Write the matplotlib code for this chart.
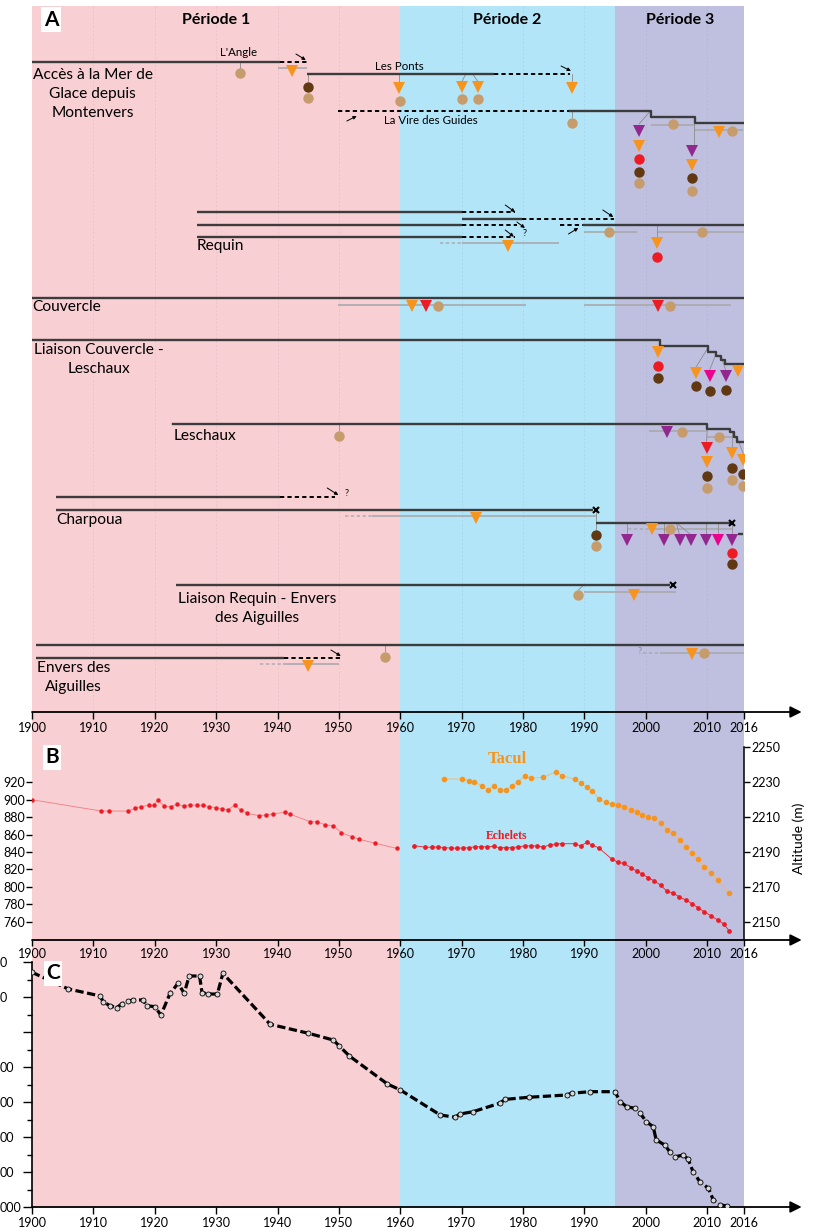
import matplotlib
matplotlib.use('Agg')
import matplotlib.pyplot as plt

plt.rcParams['font.family'] = ['Lato', 'DejaVu Sans']

W, H = 813, 1228
fig = plt.figure(figsize=(W / 100, H / 100), dpi=100)


def px_axes(x0, y0, x1, y1, **kw):
    return fig.add_axes([x0 / W, 1 - y1 / H, (x1 - x0) / W, (y1 - y0) / H], **kw)

# ---------------- data ----------------
periods = [(1900, 1960, '#F8CFD3'), (1960, 1995, '#B2E5F8'), (1995, 2016, '#BFC0DF')]
period_labels = ['Période 1', 'Période 2', 'Période 3']
period_label_x = [1930.0, 1977.4, 2005.6]
xticks = [1900, 1910, 1920, 1930, 1940, 1950, 1960, 1970, 1980, 1990, 2000, 2010, 2016]

# Panel A : route rows (row level, start year, end year)
solid_lines = [
    (62, 1900.0, 1940.4), (74, 1944.8, 1975.3),
    (212, 1926.9, 1970.0), (219, 1970.0, 1979.8), (225, 1926.9, 1970.0),
    (225, 1989.8, 2016.0), (237, 1926.9, 1970.0),
    (298, 1900.0, 2016.0),
    (497, 1903.9, 1940.4), (510, 1903.9, 1991.4), (523, 1991.9, 2013.7),
    (585, 1923.5, 2003.9),
    (645, 1900.6, 2016.0), (658, 1900.6, 1941.1),
    (534, 2015.0, 2015.8),
]
dashed_lines = [
    (62, 1940.4, 1944.8), (74, 1975.3, 1987.7), (111, 1949.9, 1987.7),
    (212, 1970.0, 1978.7), (219, 1979.8, 1994.8), (225, 1970.0, 1979.0),
    (225, 1986.0, 1989.8), (237, 1970.0, 1978.7),
    (497, 1940.4, 1949.4), (658, 1941.1, 1950.2),
]
vire_x = [1987.7, 2000.8, 2008.0, 2016.0]
vire_y = [111, 117, 123, 123]
couv_lesch_x = [1900.0, 2002.3, 2010.2, 2011.5, 2012.3, 2012.9, 2016.0]
couv_lesch_y = [340, 346, 352, 356, 360, 364, 364]
leschaux_x = [1923.0, 2010.0, 2013.8, 2014.3, 2014.9, 2016.0]
leschaux_y = [424, 429, 432, 437, 442, 442]

gray_lines = [
    (68, 1940.1, 1944.8), (125, 2000.8, 2008.0), (130, 2008.0, 2015.8),
    (243, 1970.0, 1985.9), (232, 1989.9, 1998.6), (232, 2001.8, 2016.0),
    (305, 1949.9, 1980.5), (305, 1989.9, 2013.9),
    (431, 2000.5, 2010.0), (437, 2010.0, 2014.5),
    (516, 1955.4, 1992.1), (529, 2001.3, 2014.0),
    (592, 1990.0, 2004.9), (664, 1940.9, 1950.0), (653, 2002.3, 2016.0),
]
gray_dashed = [
    (243, 1966.5, 1970.0), (516, 1951.0, 1955.4), (529, 1997.1, 2001.3),
    (664, 1937.1, 1940.9), (653, 1999.5, 2002.3),
]
stems = [
    (1933.9, 62, 1933.9, 68), (1944.9, 74, 1944.9, 81), (1959.8, 74, 1959.8, 82),
    (1970.6, 75, 1970.0, 82), (1971.9, 75, 1972.7, 82), (1987.9, 74, 1987.9, 82),
    (1987.9, 111, 1987.9, 117), (2000.6, 112, 1998.9, 124), (2007.9, 117, 2007.9, 145),
    (2001.8, 225, 2001.8, 238),
    (2010.2, 347, 2008.2, 367), (2011.5, 353, 2010.4, 370), (2012.3, 357, 2013.0, 370),
    (2014.5, 364, 2015.1, 366),
    (1950.0, 424, 1950.0, 430), (2010.0, 429, 2009.9, 442), (2014.0, 433, 2014.0, 448),
    (2014.9, 438, 2015.9, 454),
    (1991.9, 510, 1991.9, 529), (1996.9, 523, 1996.9, 535), (2002.9, 523, 2002.9, 535),
    (2005.0, 523, 2005.5, 535), (2005.0, 523, 2007.4, 535), (2009.8, 523, 2009.8, 535),
    (2011.8, 523, 2011.8, 535), (2014.0, 523, 2014.0, 535),
    (1989.9, 585, 1989.0, 590), (1957.5, 645, 1957.5, 651),
]

tri_orange = [(1942.3, 70.7), (1959.8, 88), (1970.0, 86.7), (1972.7, 86.7), (1987.9, 88),
              (1998.9, 146), (2007.6, 165), (2012.0, 132), (1977.5, 246), (2001.8, 243),
              (1961.9, 306), (2002.0, 352), (2008.2, 373), (2015.1, 371), (2009.9, 462),
              (2014.0, 453), (2015.9, 460), (1972.3, 518), (2001.0, 529), (1998.1, 595),
              (1945.0, 666), (2007.5, 654)]
tri_red = [(1964.2, 306), (2002.0, 306), (2009.9, 448)]
tri_purple = [(1998.9, 131), (2007.6, 151), (2013.0, 376), (2003.4, 432), (1996.9, 540),
              (2002.9, 540), (2005.5, 540), (2007.4, 540), (2009.8, 540), (2014.0, 540)]
tri_magenta = [(2010.4, 376), (2011.8, 540)]
circ_tan = [(1933.9, 73), (1944.9, 98), (1960.0, 100.7), (1970.0, 99), (1972.7, 99),
            (1987.9, 122.7), (2004.4, 124.3), (2014.1, 130.7), (1998.9, 183), (2007.6, 191),
            (1994.0, 232), (2009.2, 232), (1966.1, 306), (2003.9, 306), (1950.0, 436),
            (2005.9, 431.7), (2011.9, 437.3), (2009.9, 488), (2014.0, 480), (2015.9, 486),
            (1991.9, 546), (2003.9, 529), (1989.0, 595), (1957.5, 657), (2009.5, 653)]
circ_dark = [(1944.9, 86.7), (1998.9, 172), (2007.6, 178), (2002.0, 378), (2008.2, 386),
             (2010.4, 391), (2013.0, 390), (2009.9, 476), (2014.0, 468), (2015.9, 474),
             (1991.9, 535), (2014.0, 564)]
circ_red = [(1998.9, 159), (2001.8, 257), (2002.0, 366), (2014.0, 553)]
end_marks = [(1991.9, 510), (2014.1, 523), (2004.4, 585)]

arrows = [
    (1943.0, 54, 1944.6, 60), (1986.2, 66, 1987.8, 71), (1951.3, 121, 1952.9, 116),
    (1977.1, 205, 1978.7, 212), (1993.0, 210, 1994.7, 217), (1979.0, 222, 1980.3, 228),
    (1977.1, 230, 1978.5, 236.7), (1987.4, 234, 1989.0, 228),
    (1948.1, 488, 1949.9, 495), (1948.7, 650, 1950.3, 656),
]
question_marks = [(1980.3, 233, 'k'), (1951.3, 494, 'k'), (1999.0, 651, '#888888')]

row_labels = [
    ('Accès à la Mer de\nGlace depuis\nMontenvers', 1909.9, 94, 'center'),
    ('Requin', 1926.9, 246, 'left'),
    ('Couvercle', 1900.1, 307, 'left'),
    ('Liaison Couvercle -\nLeschaux', 1910.9, 359.5, 'center'),
    ('Leschaux', 1923.0, 436, 'left'),
    ('Charpoua', 1903.9, 520, 'left'),
    ('Liaison Requin - Envers\ndes Aiguilles', 1936.7, 608.5, 'center'),
    ('Envers des\nAiguilles', 1906.8, 677.5, 'center'),
]
route_names = [("L'Angle", 1933.6, 53), ('Les Ponts', 1959.8, 66.5),
               ('La Vire des Guides', 1965.0, 120)]

# Panel B : glacier surface
ech1_years = [1900, 1911.3, 1912.6, 1915.7, 1916.7, 1917.7, 1919.0, 1919.8, 1920.5, 1921.5,
              1922.6, 1923.6, 1924.7, 1925.8, 1926.9, 1927.9, 1928.9, 1930.0, 1931.0, 1931.9,
              1933.0, 1934.0, 1935.1, 1937.0, 1938.1, 1939.2, 1941.2, 1942.1, 1945.3, 1946.5,
              1947.8, 1949.1, 1950.4, 1952.1, 1953.3, 1955.9, 1959.4]
ech1_vals = [900, 887, 887, 887, 890, 892, 893.6, 893.6, 899.7, 892.8, 892.0, 894.7, 892.8,
             894.3, 893.6, 893.6, 892, 890.9, 889.7, 888.2, 893.6, 888.2, 884.4, 881.7, 882.5,
             883.6, 885.6, 883.3, 874.8, 874.8, 871.0, 870.2, 862.2, 857.6, 854.6, 850.0, 844.2]
ech2_years = [1962.2, 1964.1, 1965.1, 1966.2, 1967.2, 1968.2, 1969.2, 1970.2, 1971.2, 1972.2,
              1973.2, 1974.2, 1975.2, 1976.2, 1977.2, 1978.2, 1979.2, 1980.3, 1981.3, 1982.3,
              1983.3, 1984.4, 1985.4, 1986.4, 1988.4, 1989.4, 1990.4, 1991.3, 1992.4, 1994.5,
              1995.5, 1996.4, 1997.6, 1998.5, 1999.4, 2000.4, 2001.4, 2002.4, 2003.4, 2004.5,
              2005.4, 2006.5, 2007.6, 2008.5, 2009.5, 2010.6, 2011.7, 2012.7, 2013.6]
ech2_vals = [847.3, 845.5, 845.5, 846, 845, 844.5, 844.5, 844.5, 845, 846, 846, 846, 846.5,
             845, 845, 845, 846, 847, 847, 847, 846, 848, 849.5, 849.5, 849.5, 847, 851, 848,
             844.5, 831.6, 828.2, 827.0, 822.0, 818.2, 814.8, 810.5, 806.7, 802.1, 795.2,
             792.6, 788.7, 785.0, 780.4, 776.1, 771.5, 766.9, 762.0, 757.4, 749.3]
tacul_years = [1967.2, 1970.1, 1971.2, 1972.0, 1973.3, 1974.3, 1975.2, 1976.2, 1977.3, 1978.2,
               1979.2, 1980.3, 1981.3, 1983.3, 1985.4, 1986.4, 1988.4, 1989.4, 1990.4, 1991.3,
               1992.4, 1993.5, 1994.5, 1995.5, 1996.4, 1997.6, 1998.5, 1999.4, 2000.4, 2001.4,
               2002.4, 2003.4, 2004.5, 2005.5, 2006.5, 2007.5, 2008.5, 2009.5, 2010.6, 2011.7,
               2013.6]
tacul_vals = [2231.5, 2231.5, 2230.6, 2230.0, 2227.5, 2225.3, 2227.5, 2225.3, 2225.3, 2227.5,
              2230.0, 2233.3, 2231.9, 2232.5, 2235.7, 2233.3, 2231.5, 2229.1, 2226.8, 2224.7,
              2219.9, 2218.2, 2217.1, 2216.5, 2215.4, 2213.8, 2212.5, 2211.0, 2209.6, 2209.1,
              2206.6, 2202.4, 2200.5, 2196.7, 2192.9, 2189.1, 2185.7, 2181.4, 2178.0, 2173.8,
              2166.2]
b_left_ticks = [760, 780, 800, 820, 840, 860, 880, 900, 920]
b_right_ticks = [2150, 2170, 2190, 2210, 2230, 2250]

# Panel C : cumulative front variation
c_years = [1900, 1905.9, 1911.1, 1911.6, 1912.7, 1913.8, 1914.6, 1915.7, 1916.5, 1918.1,
           1918.7, 1920.0, 1921.0, 1922.5, 1923.8, 1924.8, 1925.6, 1927.3, 1927.7, 1928.7,
           1930.2, 1931.1, 1938.8, 1945.0, 1949.1, 1950.0, 1951.7, 1957.9, 1960.0, 1966.5,
           1968.9, 1969.7, 1971.9, 1976.2, 1977.1, 1980.9, 1987.1, 1987.9, 1990.9, 1995.0,
           1995.8, 1996.9, 1998.2, 1999.1, 2000.1, 2001.2, 2001.7, 2003.1, 2003.9, 2004.8,
           2006.1, 2006.9, 2007.7, 2008.8, 2010.2, 2011.0, 2012.1, 2013.2]
c_vals = [-59, -154, -194, -227, -250, -261, -240, -223, -217, -217, -250, -255, -303, -179,
          -122, -179, -80, -80, -175, -183, -183, -65, -356, -407, -446, -478, -537, -697,
          -731, -874, -887, -869, -855, -807, -785, -773, -760, -750, -741, -741, -798, -827,
          -836, -865, -913, -941, -1017, -1046, -1084, -1113, -1103, -1127, -1198, -1255,
          -1293, -1360, -1389, -1393]
c_major = [0, -200, -400, -600, -800, -1000, -1200, -1400]
c_major_labels = ['0', '0', '', '00', '00', '00', '00', '000']

# ---------------- styles ----------------
COL_LINE = '#3c3c3c'
COL_GRAY = '#a9a9ad'
ORANGE, RED, PURPLE, MAGENTA = '#F7941D', '#ED1C24', '#92278F', '#EC008C'
TAN, DARK = '#C69C6D', '#603913'

# ---------------- background ----------------
bg = px_axes(32, 6, 744, 1207)
bg.set_xlim(1900, 2016)
bg.set_ylim(0, 1)
for x0, x1, c in periods:
    bg.axvspan(x0, x1, color=c, lw=0)
bg.axis('off')
bg.set_zorder(0)


def style_xaxis(ax, ticklen=5):
    ax.set_xlim(1900, 2016)
    ax.set_xticks(xticks)
    ax.set_xticklabels([str(t) for t in xticks], fontsize=9)
    ax.tick_params(axis='x', direction='out', length=ticklen, width=1, pad=2, color='k')
    for s in ['top', 'right', 'bottom']:
        ax.spines[s].set_visible(False)
    ax.annotate('', xy=(1.081, 0), xytext=(0, 0), xycoords='axes fraction',
                arrowprops=dict(arrowstyle='-|>', color='k', lw=1.3, mutation_scale=17,
                                shrinkA=0, shrinkB=0), annotation_clip=False)
    ax.patch.set_alpha(0)

# ---------------- panel A ----------------
axA = px_axes(32, 6, 744, 712)
axA.set_ylim(712, 6)
style_xaxis(axA, ticklen=5)
axA.spines['left'].set_visible(False)
axA.set_yticks([])
axA.set_zorder(2)

for t in range(1910, 2016, 10):
    if t not in (1960,):
        axA.axvline(t, color='#7a7a9a', alpha=0.13, lw=0.7, ls=(0, (2, 2)), zorder=1)

for y, a, b in gray_lines:
    axA.plot([a, b], [y, y], color=COL_GRAY, lw=1.4, alpha=0.85, zorder=2,
             solid_capstyle='butt')
for y, a, b in gray_dashed:
    axA.plot([a, b], [y, y], color=COL_GRAY, lw=1.2, ls=(0, (2, 1.5)), alpha=0.85, zorder=2)
for x0, y0, x1, y1 in stems:
    axA.plot([x0, x1], [y0, y1], color='#8c8c8c', lw=0.6, zorder=2)
for y, a, b in solid_lines:
    axA.plot([a, b], [y, y], color=COL_LINE, lw=1.7, zorder=3, solid_capstyle='butt')
for y, a, b in dashed_lines:
    axA.plot([a, b], [y, y], color='k', lw=1.4, ls=(0, (2.2, 1.6)), zorder=3)
for xs, ys in [(vire_x, vire_y), (couv_lesch_x, couv_lesch_y), (leschaux_x, leschaux_y)]:
    axA.plot(xs, ys, color=COL_LINE, lw=1.7, drawstyle='steps-post', zorder=3)

for pts, mk, col, ms in [(tri_orange, 'v', ORANGE, 9), (tri_red, 'v', RED, 9),
                         (tri_purple, 'v', PURPLE, 9), (tri_magenta, 'v', MAGENTA, 9),
                         (circ_tan, 'o', TAN, 7.5), (circ_dark, 'o', DARK, 7.5),
                         (circ_red, 'o', RED, 7.5)]:
    axA.plot([p[0] for p in pts], [p[1] for p in pts], ls='none', marker=mk,
             color=col, ms=ms, mew=0, zorder=4)
axA.plot([p[0] for p in end_marks], [p[1] for p in end_marks], ls='none', marker='x',
         color='k', ms=5, mew=1.5, zorder=4)

for x0, y0, x1, y1 in arrows:
    axA.annotate('', xy=(x1, y1), xytext=(x0, y0),
                 arrowprops=dict(arrowstyle='-|>', color='k', lw=0.7, mutation_scale=5,
                                 shrinkA=0, shrinkB=0), zorder=5)
for x, y, c in question_marks:
    axA.text(x, y, '?', fontsize=6.5, color=c, ha='center', va='center', zorder=5)

for txt, x, y, ha in row_labels:
    axA.text(x, y, txt, fontsize=11.2, ha=ha, va='center', linespacing=1.42,
             multialignment='center', zorder=5)
for txt, x, y in route_names:
    axA.text(x, y, txt, fontsize=8.3, ha='center', va='center', zorder=5)
for txt, x in zip(period_labels, period_label_x):
    axA.text(x, 20, txt, fontsize=11.5, fontweight='bold', ha='center', va='center', zorder=5)
axA.text(0.0265, 0.9805, 'A', transform=axA.transAxes, fontsize=15, fontweight='bold',
         ha='center', va='center', zorder=6,
         bbox=dict(boxstyle='square,pad=0.12', fc='white', ec='none'))

# ---------------- panel B ----------------
axB = px_axes(32, 737, 744, 940)
style_xaxis(axB, ticklen=4)
axB.set_zorder(2)
axB.set_ylim(739.0, 972.0)
axB.spines['left'].set_visible(False)
axB.set_yticks(b_left_ticks)
axB.set_yticklabels([str(v) for v in b_left_ticks], fontsize=9)
axB.tick_params(axis='y', direction='out', length=4, width=1, pad=1)
axB.plot(ech1_years, ech1_vals, color='#F07C80', lw=0.6, marker='o', ms=2.2,
         mfc=RED, mec=RED, zorder=3)
axB.plot(ech2_years, ech2_vals, color=RED, lw=0.6, marker='o', ms=2.4,
         mfc=RED, mec=RED, zorder=3)
axB.text(1977.4, 858.4, 'Echelets', color=RED, fontsize=8.5, fontweight='bold',
         family='Liberation Serif', ha='center', va='center')
axB.text(0.028, 0.90, 'B', transform=axB.transAxes, fontsize=15, fontweight='bold',
         ha='center', va='center', zorder=6,
         bbox=dict(boxstyle='square,pad=0.12', fc='white', ec='none'))

axB2 = axB.twinx()
axB2.set_ylim(2139.5, 2255.5)
axB2.set_xlim(1900, 2016)
for s in ['top', 'left', 'bottom']:
    axB2.spines[s].set_visible(False)
axB2.spines['right'].set_bounds(2139.5, 2250)
axB2.spines['right'].set_linewidth(1.1)
axB2.set_yticks(b_right_ticks)
axB2.set_yticklabels([str(v) for v in b_right_ticks], fontsize=9)
axB2.tick_params(axis='y', direction='out', length=4, width=1, pad=1)
axB2.set_ylabel('Altitude (m)', fontsize=10, labelpad=9)
axB2.plot(tacul_years, tacul_vals, color='#F9B46A', lw=0.6, marker='o', ms=3,
          mfc=ORANGE, mec=ORANGE, zorder=3)
axB2.text(1977.4, 2243, 'Tacul', color=ORANGE, fontsize=12, fontweight='bold',
          family='Liberation Serif', ha='center', va='center')
axB2.patch.set_alpha(0)

# ---------------- panel C ----------------
axC = px_axes(32, 962, 744, 1207)
style_xaxis(axC, ticklen=5)
axC.set_zorder(2)
axC.set_ylim(-1400, 0)
axC.spines['left'].set_linewidth(1.2)
axC.set_yticks(c_major)
axC.set_yticks(list(range(-1300, 0, 200)), minor=True)
axC.set_yticklabels(c_major_labels, fontsize=9, ha='left')
axC.tick_params(axis='y', which='major', direction='out', length=6.5, width=1, pad=16.6)
axC.tick_params(axis='y', which='minor', direction='out', length=3.5, width=1)
axC.plot(c_years, c_vals, color='k', lw=2.3, ls=(0, (2.6, 1.1)), marker='o', ms=3.6,
         mfc='#d8d8d8', mec='k', mew=0.6, zorder=3)
axC.text(0.0295, 0.955, 'C', transform=axC.transAxes, fontsize=15, fontweight='bold',
         ha='center', va='center', zorder=6,
         bbox=dict(boxstyle='square,pad=0.12', fc='white', ec='none'))

fig.savefig('out.png', dpi=100)
